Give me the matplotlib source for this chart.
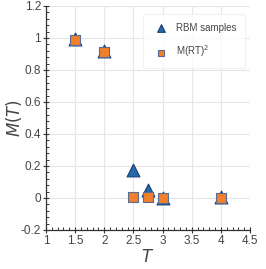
import matplotlib
matplotlib.use("Agg")
import matplotlib.pyplot as plt
from matplotlib.ticker import MultipleLocator

temps = [1.5, 2.0, 2.5, 2.75, 3.0, 4.0]
rbm_mag = [0.995, 0.918, 0.178, 0.052, -0.003, 0.005]
rt_mag = [0.988, 0.911, 0.008, 0.004, 0.0, 0.0]

plt.rcParams['font.family'] = ['Liberation Sans', 'DejaVu Sans']
txt = '#444444'

fig = plt.figure(figsize=(2.66, 2.69), dpi=100)
ax = fig.add_axes([46/266, 1 - 230/269, 204/266, 224/269])

ax.grid(True, color='#e6e6e6', lw=0.8, zorder=0)
ax.set_axisbelow(True)
ax.scatter(temps, rbm_mag, marker='^', s=85, color='#2668a8', edgecolor='#1c3f78',
           linewidth=0.8, zorder=3, label='RBM samples')
ax.scatter(temps, rt_mag, marker='s', s=42, color='#f0802a', edgecolor='#5a6a96',
           linewidth=0.8, zorder=4, label='M(RT)$^2$')

ax.set_xlim(1, 4.5)
ax.set_ylim(-0.2, 1.2)
ax.xaxis.set_minor_locator(MultipleLocator(0.1))
ax.yaxis.set_minor_locator(MultipleLocator(0.04))
ax.set_xticks([1, 1.5, 2, 2.5, 3, 3.5, 4, 4.5])
ax.set_xticklabels(['1', '1.5', '2', '2.5', '3', '3.5', '4', '4.5'])
ax.set_yticks([-0.2, 0, 0.2, 0.4, 0.6, 0.8, 1, 1.2])
ax.set_yticklabels(['-0.2', '0', '0.2', '0.4', '0.6', '0.8', '1', '1.2'])

for s in ['top', 'right']:
    ax.spines[s].set_visible(False)
for s in ['left', 'bottom']:
    ax.spines[s].set_color('#333333')
    ax.spines[s].set_linewidth(0.9)
ax.tick_params(which='major', direction='inout', length=4, width=0.8, color='#333333',
               labelsize=8.5, labelcolor=txt, pad=1.5)
ax.tick_params(which='minor', direction='in', length=2, width=0.7, color='#333333')

ax.set_xlabel('$T$', fontsize=12, color=txt, labelpad=1)
ax.set_ylabel('$M(T)$', fontsize=12, color=txt)
ax.yaxis.set_label_coords(-22/204, 0.5)

leg = ax.legend(loc='upper right', fontsize=7, frameon=True, borderpad=0.9,
                labelspacing=1.1, handletextpad=0.5, markerscale=0.6,
                bbox_to_anchor=(1.0, 0.985))
leg.get_frame().set_edgecolor('#eeeeee')
leg.get_frame().set_linewidth(0.8)
for t in leg.get_texts():
    t.set_color(txt)

fig.savefig('out.png', dpi=100)
